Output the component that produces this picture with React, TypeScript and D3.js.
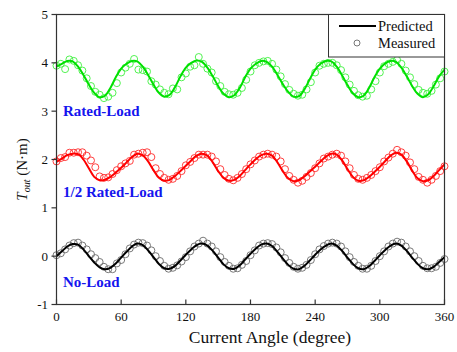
import React from "react";
import * as d3 from "d3";

const lineAngles: number[] = d3.range(0, 361, 5);
const measAngles: number[] = d3.range(0, 361, 4);

const ratedPred = [3.92,3.98,4.04,4.03,3.92,3.75,3.55,3.38,3.29,3.32,3.48,3.70,3.88,3.98,4.04,4.03,3.92,3.75,3.55,3.38,3.30,3.34,3.50,3.72,3.90,4.00,4.05,4.02,3.90,3.72,3.52,3.36,3.29,3.33,3.48,3.70,3.88,3.98,4.04,4.02,3.92,3.75,3.56,3.40,3.30,3.31,3.45,3.66,3.86,3.98,4.04,4.03,3.92,3.74,3.54,3.37,3.29,3.32,3.48,3.70,3.88,3.99,4.04,4.02,3.90,3.72,3.52,3.36,3.29,3.35,3.52,3.72,3.86];
const halfPred = [1.95,2.02,2.09,2.12,2.11,2.00,1.82,1.64,1.57,1.58,1.64,1.73,1.83,1.94,2.05,2.12,2.09,1.96,1.78,1.62,1.56,1.58,1.66,1.76,1.87,1.98,2.08,2.12,2.08,1.94,1.76,1.62,1.56,1.58,1.66,1.78,1.90,2.01,2.09,2.12,2.08,1.94,1.76,1.61,1.55,1.57,1.65,1.75,1.85,1.96,2.06,2.12,2.10,1.98,1.80,1.64,1.56,1.57,1.64,1.74,1.85,1.97,2.08,2.14,2.10,1.96,1.77,1.61,1.55,1.57,1.66,1.78,1.90];
const noPred = [0.00,0.10,0.20,0.25,0.24,0.14,0.00,-0.13,-0.23,-0.27,-0.24,-0.15,-0.03,0.09,0.20,0.26,0.23,0.12,-0.02,-0.16,-0.25,-0.26,-0.20,-0.09,0.03,0.14,0.23,0.26,0.22,0.11,-0.03,-0.17,-0.25,-0.26,-0.19,-0.07,0.05,0.16,0.24,0.26,0.21,0.09,-0.05,-0.18,-0.26,-0.27,-0.20,-0.09,0.03,0.14,0.22,0.26,0.22,0.11,-0.03,-0.16,-0.25,-0.27,-0.21,-0.10,0.02,0.13,0.22,0.26,0.22,0.11,-0.03,-0.16,-0.25,-0.27,-0.22,-0.12,-0.02];

const ratedMeas = [3.94,3.98,3.87,4.07,4.04,3.95,3.84,3.68,3.52,3.40,3.34,3.27,3.30,3.38,3.58,3.80,3.90,3.98,4.08,3.86,3.85,3.82,3.62,3.55,3.45,3.38,3.35,3.47,3.45,3.70,3.78,3.92,3.95,4.12,3.98,3.88,3.80,3.62,3.52,3.40,3.35,3.34,3.38,3.48,3.65,3.82,3.95,4.00,4.03,4.04,3.98,3.86,3.72,3.56,3.44,3.36,3.32,3.34,3.45,3.60,3.80,3.94,3.98,4.00,4.00,3.95,3.85,3.70,3.55,3.42,3.33,3.30,3.32,3.45,3.62,3.80,3.93,3.98,4.02,4.06,3.98,3.84,3.70,3.56,3.44,3.38,3.36,3.42,3.55,3.68,3.82];
const halfMeas = [1.96,2.03,2.05,2.14,2.14,2.15,2.15,2.08,1.98,1.84,1.65,1.62,1.63,1.70,1.78,1.86,1.92,1.97,2.10,2.12,2.14,2.15,2.05,1.82,1.70,1.62,1.58,1.60,1.66,1.76,1.88,1.95,2.03,2.10,2.10,2.10,2.06,1.96,1.80,1.68,1.60,1.57,1.62,1.70,1.80,1.90,1.98,2.06,2.10,2.12,2.10,2.06,1.96,1.80,1.66,1.58,1.52,1.56,1.64,1.72,1.82,1.92,2.02,2.06,2.10,2.12,2.08,1.96,1.82,1.68,1.60,1.58,1.62,1.68,1.76,1.84,1.96,2.04,2.12,2.20,2.15,2.08,1.94,1.80,1.64,1.58,1.52,1.58,1.66,1.76,1.86];
const noMeas = [0.02,0.06,0.14,0.22,0.27,0.28,0.22,0.14,0.04,-0.04,-0.12,-0.22,-0.27,-0.27,-0.15,-0.08,0.04,0.16,0.24,0.28,0.27,0.22,0.12,0.00,-0.10,-0.20,-0.26,-0.24,-0.19,-0.11,-0.02,0.10,0.20,0.26,0.32,0.26,0.20,0.10,-0.02,-0.12,-0.20,-0.26,-0.25,-0.18,-0.10,0.02,0.12,0.22,0.26,0.27,0.25,0.18,0.08,-0.04,-0.14,-0.22,-0.26,-0.24,-0.18,-0.08,0.04,0.14,0.21,0.26,0.28,0.26,0.20,0.10,-0.02,-0.12,-0.20,-0.26,-0.26,-0.20,-0.10,0.00,0.10,0.20,0.26,0.30,0.28,0.20,0.10,0.00,-0.10,-0.20,-0.25,-0.25,-0.22,-0.14,-0.06];

const xTicks = [0, 60, 120, 180, 240, 300, 360];
const yTicks = [-1, 0, 1, 2, 3, 4, 5];
const seriesLabels = ["Rated-Load", "1/2 Rated-Load", "No-Load"];
const seriesLabelValues = [2.9, 1.22, -0.64];

const W = 457, H = 352;
const L = 56.5, R = 444.5, T = 14.5, B = 304.5;
const font = "'Liberation Serif', 'Times New Roman', serif";

export default function App() {
  const x = d3.scaleLinear().domain([0, 360]).range([L, R]);
  const y = d3.scaleLinear().domain([-1, 5]).range([B, T]);
  const line = d3.line<[number, number]>().x(d => x(d[0])).y(d => y(d[1])).curve(d3.curveCatmullRom);

  const series = [
    { pred: ratedPred, meas: ratedMeas, lc: "#00e000", mc: "#3ef03e" },
    { pred: halfPred, meas: halfMeas, lc: "#ff0000", mc: "#ff2a2a" },
    { pred: noPred, meas: noMeas, lc: "#000000", mc: "#6a6a6a" },
  ];

  return (
    <svg width={W} height={H} style={{ position: "absolute", left: 0, top: 0, background: "#fff" }} fontFamily={font}>
      <rect x={0} y={0} width={W} height={H} fill="#fff" />
      {series.map((s, i) => (
        <g key={i}>
          {s.meas.map((v, j) => (
            <circle key={j} cx={x(measAngles[j])} cy={y(v)} r={3.5} fill="none" stroke={s.mc} strokeWidth={0.9} />
          ))}
          <path d={line(lineAngles.map((a, j) => [a, s.pred[j]] as [number, number])) || ""} fill="none" stroke={s.lc} strokeWidth={2} />
        </g>
      ))}
      {seriesLabels.map((t, i) => (
        <text key={t} x={63} y={y(seriesLabelValues[i])} fill="#1515ee" fontWeight="bold" fontSize={15}>{t}</text>
      ))}
      {/* frame */}
      <rect x={L} y={T} width={R - L} height={B - T} fill="none" stroke="#333" strokeWidth={1.2} />
      {/* legend */}
      <rect x={328.5} y={T} width={R - 328.5} height={42.5} fill="#fff" stroke="#333" strokeWidth={1} />
      <line x1={339} x2={376} y1={26} y2={26} stroke="#000" strokeWidth={2} />
      <text x={378} y={31} fontSize={14.5} fill="#111">Predicted</text>
      <circle cx={357} cy={43} r={3} fill="none" stroke="#666" strokeWidth={0.9} />
      <text x={378} y={48} fontSize={14.5} fill="#111">Measured</text>
      {/* y axis */}
      {yTicks.map(t => (
        <g key={t}>
          <line x1={L - 5} x2={L} y1={y(t)} y2={y(t)} stroke="#333" strokeWidth={1.2} />
          <text x={48} y={y(t) + 4.5} fontSize={13} textAnchor="end" fill="#111">{t}</text>
        </g>
      ))}
      {/* x axis */}
      {xTicks.map(t => (
        <g key={t}>
          <line x1={x(t)} x2={x(t)} y1={B} y2={B - 5} stroke="#333" strokeWidth={1.2} />
          <text x={x(t)} y={321} fontSize={13} textAnchor="middle" fill="#111">{t}</text>
        </g>
      ))}
      <text x={270} y={343} fontSize={17.5} textAnchor="middle" fill="#111">Current Angle (degree)</text>
      <text transform={`translate(27,${(T + B) / 2 + 10}) rotate(-90)`} fontSize={15} textAnchor="middle" fill="#111">
        <tspan fontStyle="italic">T</tspan>
        <tspan fontStyle="italic" fontSize={10} dy={3}>out</tspan>
        <tspan dy={-3}> (N·m)</tspan>
      </text>
    </svg>
  );
}
